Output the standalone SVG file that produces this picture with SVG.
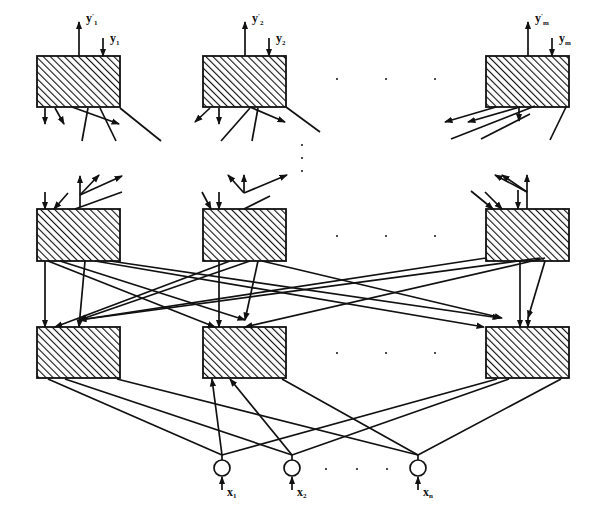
<svg xmlns="http://www.w3.org/2000/svg" width="600" height="508" viewBox="0 0 600 508">
<defs>
<pattern id="h" width="5" height="5" patternUnits="userSpaceOnUse" patternTransform="rotate(-45)">
<rect width="5" height="5" fill="#fff"/><line x1="0" y1="0" x2="0" y2="5" stroke="#111" stroke-width="2.2"/>
</pattern>
<marker id="a" viewBox="0 0 8 8" refX="7" refY="4" markerWidth="5" markerHeight="5" orient="auto"><path d="M0,1 L8,4 L0,7 z" fill="#111"/></marker>
</defs>
<style>
.b{fill:url(#h);stroke:#111;stroke-width:1.8}
.c{stroke:#111;stroke-width:1.7;fill:none}
.t{font-family:"Liberation Serif",serif;font-weight:bold;font-size:12px;fill:#111}
.s{font-size:7px}
.d{fill:#111}
</style>
<rect width="600" height="508" fill="#fff"/>
<g id="top1"><rect class="b" x="37" y="56" width="83" height="51"/></g>
<g id="top2"><rect class="b" x="203" y="56" width="83" height="51"/></g>
<g id="topm"><rect class="b" x="486" y="56" width="83" height="51"/></g>
<g id="mid1"><rect class="b" x="37" y="209" width="83" height="52"/></g>
<g id="mid2"><rect class="b" x="203" y="209" width="83" height="52"/></g>
<g id="midm"><rect class="b" x="486" y="209" width="83" height="52"/></g>
<g id="bot1"><rect class="b" x="37" y="327" width="83" height="51"/></g>
<g id="bot2"><rect class="b" x="203" y="327" width="83" height="51"/></g>
<g id="botm"><rect class="b" x="486" y="327" width="83" height="51"/></g>
<g id="in1"><circle class="c" cx="222" cy="468" r="8"/></g>
<g id="in2"><circle class="c" cx="292" cy="468" r="8"/></g>
<g id="inn"><circle class="c" cx="418" cy="468" r="8"/></g>
<g id="labels">
<text class="t" x="86" y="22">y<tspan class="s" dy="-4">′</tspan><tspan class="s" dy="7">1</tspan></text>
<text class="t" x="110" y="42">y<tspan class="s" dy="3">1</tspan></text>
<text class="t" x="252" y="22">y<tspan class="s" dy="-4">′</tspan><tspan class="s" dy="7">2</tspan></text>
<text class="t" x="276" y="42">y<tspan class="s" dy="3">2</tspan></text>
<text class="t" x="535" y="22">y<tspan class="s" dy="-4">′</tspan><tspan class="s" dy="7">m</tspan></text>
<text class="t" x="559" y="42">y<tspan class="s" dy="3">m</tspan></text>
<text class="t" x="227" y="496">x<tspan class="s" dy="2">1</tspan></text>
<text class="t" x="297" y="496">x<tspan class="s" dy="2">2</tspan></text>
<text class="t" x="423" y="496">x<tspan class="s" dy="2">n</tspan></text>
</g>
<g id="dots" class="d">
<circle cx="337" cy="79" r="1"/><circle cx="386" cy="79" r="1"/><circle cx="435" cy="79" r="1"/>
<circle cx="302" cy="145" r="1"/><circle cx="302" cy="158" r="1"/><circle cx="302" cy="171" r="1"/>
<circle cx="337" cy="236" r="1"/><circle cx="386" cy="236" r="1"/><circle cx="435" cy="236" r="1"/>
<circle cx="337" cy="353" r="1"/><circle cx="386" cy="353" r="1"/><circle cx="435" cy="353" r="1"/>
<circle cx="326" cy="469" r="1"/><circle cx="357" cy="469" r="1"/><circle cx="387" cy="469" r="1"/>
</g>
<g id="connectors" class="c" marker-end="url(#a)">
<line x1="79" y1="56" x2="79" y2="22"/><line x1="103" y1="38" x2="103" y2="56"/>
<line x1="245" y1="56" x2="245" y2="22"/><line x1="269" y1="38" x2="269" y2="56"/>
<line x1="528" y1="56" x2="528" y2="22"/><line x1="552" y1="38" x2="552" y2="56"/>
<line x1="45" y1="108" x2="45" y2="124"/><line x1="55" y1="108" x2="64" y2="124"/>
<line x1="72" y1="107" x2="119" y2="124"/>
<line x1="82" y1="141" x2="88" y2="108" marker-end="none"/><line x1="116" y1="141" x2="100" y2="108" marker-end="none"/><line x1="161" y1="141" x2="120" y2="108" marker-end="none"/>
<line x1="210" y1="108" x2="195" y2="122"/><line x1="219" y1="108" x2="219" y2="124"/>
<line x1="250" y1="107" x2="285" y2="122"/>
<line x1="221" y1="141" x2="250" y2="108" marker-end="none"/><line x1="252" y1="141" x2="258" y2="108" marker-end="none"/><line x1="320" y1="132" x2="286" y2="107" marker-end="none"/>
<line x1="496" y1="107" x2="445" y2="122"/><line x1="520" y1="107" x2="468" y2="122"/>
<line x1="519" y1="107" x2="519" y2="121"/>
<line x1="451" y1="139" x2="535" y2="106" marker-end="none"/><line x1="481" y1="139" x2="530" y2="114" marker-end="none"/><line x1="550" y1="140" x2="566" y2="107" marker-end="none"/>
<line x1="45" y1="192" x2="45" y2="209"/><line x1="68" y1="193" x2="54" y2="209"/>
<line x1="80" y1="207" x2="80" y2="176"/><line x1="80" y1="195" x2="122" y2="176"/>
<line x1="75" y1="209" x2="122" y2="192" marker-end="none"/><line x1="80" y1="195" x2="99" y2="175"/>
<line x1="202" y1="192" x2="211" y2="209"/><line x1="219" y1="192" x2="219" y2="209"/>
<line x1="244" y1="209" x2="270" y2="196" marker-end="none"/><line x1="244" y1="193" x2="244" y2="175"/>
<line x1="244" y1="193" x2="287" y2="175"/><line x1="244" y1="193" x2="228" y2="175"/>
<line x1="471" y1="191" x2="493" y2="209"/><line x1="485" y1="192" x2="502" y2="209"/>
<line x1="518" y1="190" x2="518" y2="209"/><line x1="527" y1="209" x2="527" y2="175"/>
<line x1="527" y1="192" x2="495" y2="175"/><line x1="527" y1="192" x2="502" y2="175"/>
<line x1="45" y1="261" x2="45" y2="327"/>
<line x1="85" y1="261" x2="79" y2="327"/>
<line x1="48" y1="261" x2="215" y2="327"/>
<line x1="95" y1="261" x2="484" y2="327"/>
<line x1="110" y1="261" x2="500" y2="318"/>
<line x1="60" y1="261" x2="245" y2="320"/>
<line x1="219" y1="261" x2="219" y2="327"/>
<line x1="250" y1="261" x2="79" y2="320"/>
<line x1="230" y1="261" x2="55" y2="327"/>
<line x1="258" y1="261" x2="245" y2="320"/>
<line x1="262" y1="261" x2="502" y2="318"/>
<line x1="520" y1="261" x2="520" y2="327"/>
<line x1="545" y1="261" x2="528" y2="318"/>
<line x1="528" y1="318" x2="528" y2="327"/>
<line x1="540" y1="258" x2="79" y2="320"/>
<line x1="545" y1="258" x2="245" y2="327"/>
<line x1="486" y1="258" x2="79" y2="320" marker-end="none"/>
<line x1="222" y1="490" x2="222" y2="477"/><line x1="292" y1="490" x2="292" y2="477"/><line x1="418" y1="490" x2="418" y2="477"/>
<line x1="222" y1="460" x2="222" y2="455" marker-end="none"/><line x1="292" y1="460" x2="292" y2="455" marker-end="none"/><line x1="418" y1="460" x2="418" y2="455" marker-end="none"/>
<line x1="222" y1="455" x2="48" y2="379" marker-end="none"/><line x1="222" y1="455" x2="212" y2="379"/><line x1="222" y1="455" x2="497" y2="379" marker-end="none"/>
<line x1="292" y1="455" x2="65" y2="379" marker-end="none"/><line x1="292" y1="455" x2="230" y2="379"/><line x1="292" y1="455" x2="509" y2="379" marker-end="none"/>
<line x1="418" y1="455" x2="117" y2="379" marker-end="none"/><line x1="418" y1="455" x2="282" y2="379" marker-end="none"/><line x1="418" y1="455" x2="561" y2="379" marker-end="none"/>
</g>
</svg>
